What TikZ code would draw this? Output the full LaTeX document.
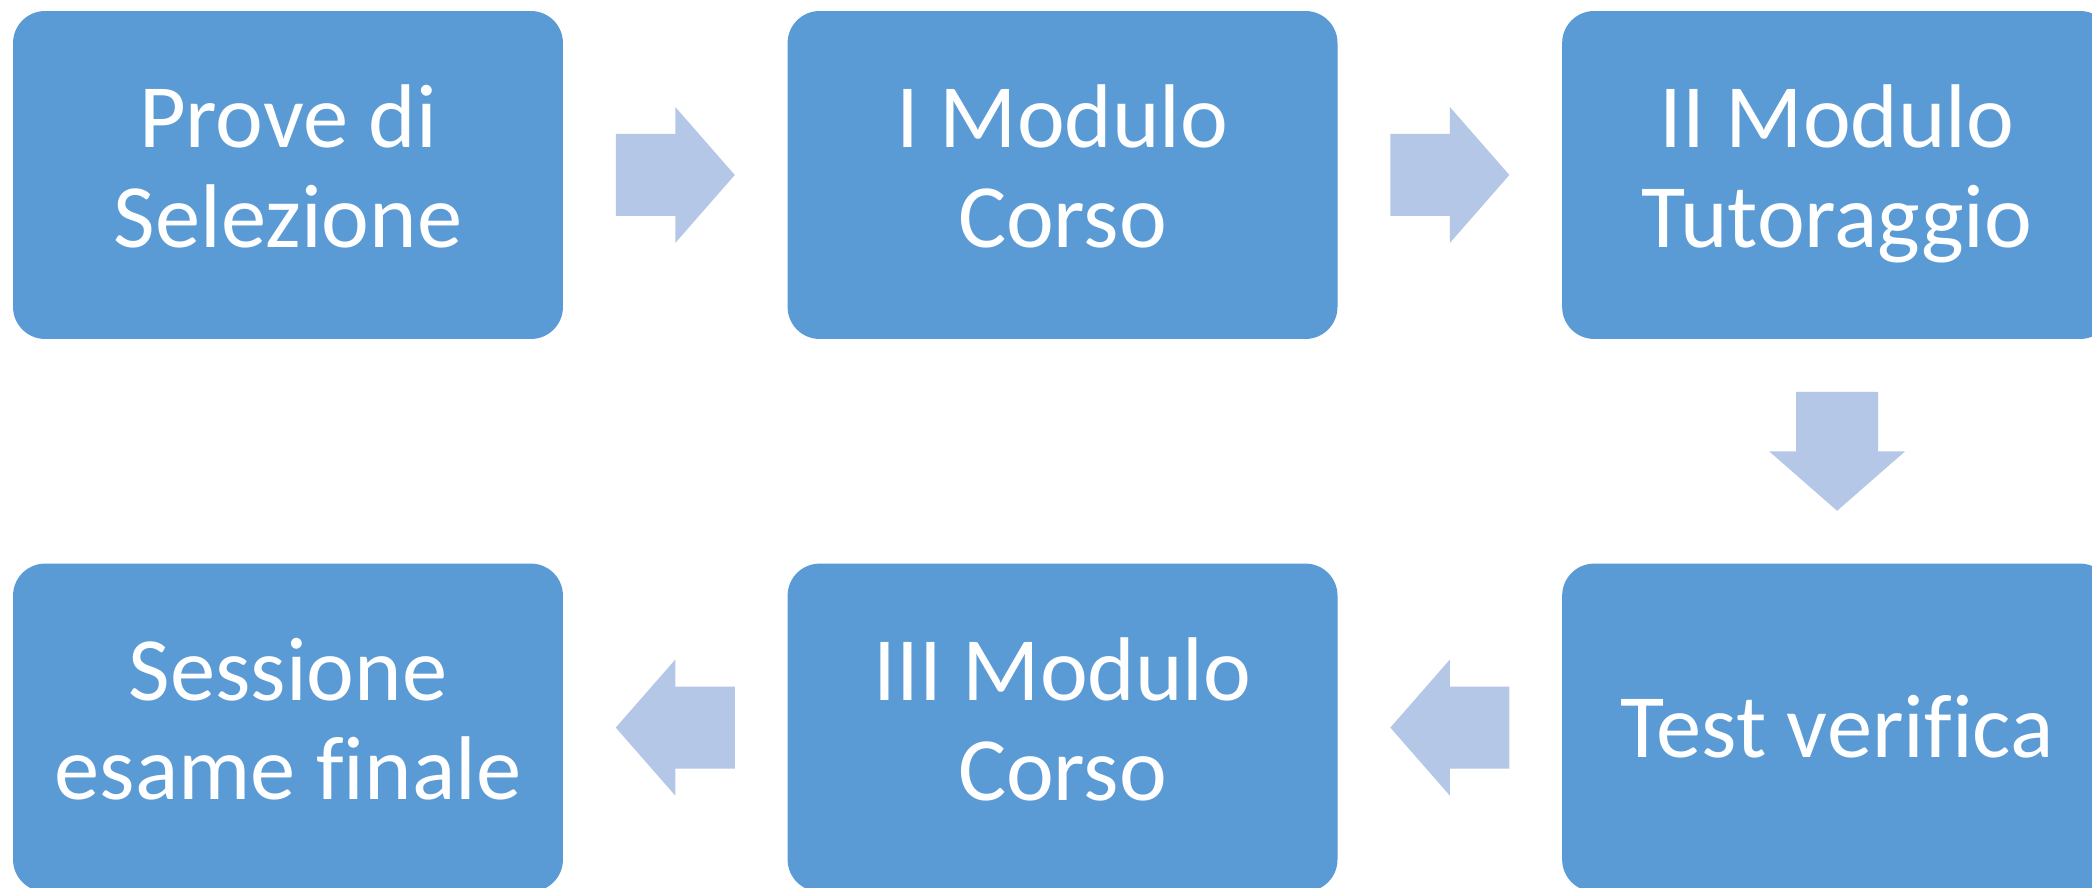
\documentclass[tikz,border=0pt]{standalone}
\usepackage{fontspec}
\setmainfont{Carlito}[Ligatures=CommonOff]
\usetikzlibrary{positioning,calc}

\definecolor{bluscatola}{RGB}{91,155,213}
\definecolor{bluchiaro}{RGB}{180,199,231}

\tikzset{
	fase/.style={rectangle, rounded corners=0.64cm, fill=bluscatola, text=white,
		align=center, inner sep=0pt, minimum width=11cm, minimum height=6.56cm,
		font=\fontsize{51.5}{56.7}\selectfont,
		execute at begin node={\rule{0pt}{0.85em}},
		execute at end node={\rule[-0.19em]{0pt}{0.19em}}},
	freccia/.style={fill=bluchiaro}
}

% arrow between two phases: from, to, angle
\newcommand{\passo}[3]{%
	\path ($(#1)!0.5!(#2)$) coordinate (mezzo);
	\fill[freccia, shift={(mezzo)}, rotate=#3] (-59.5,-41) -- (0,-41) -- (0,-68) -- (59.5,0)
		-- (0,68) -- (0,41) -- (-59.5,41) -- cycle;}

\begin{document}
\begin{tikzpicture}[x=0.02cm, y=0.02cm, node distance=4.48cm]
	\fill[white] (0,0) rectangle (2092,888);
	\useasboundingbox (0,0) rectangle (2092,888);

	\node[fase] (selezione) at (288,713) {Prove di\\Selezione};
	\node[fase, right=of selezione] (modulo1) {I Modulo\\Corso};
	\node[fase, right=of modulo1] (tutoraggio) {II Modulo\\Tutoraggio};
	\node[fase, below=of tutoraggio] (test) {Test verifica};
	\node[fase, left=of test] (modulo3) {III Modulo\\Corso};
	\node[fase, left=of modulo3] (esame) {Sessione\\esame finale};

	\foreach \da/\a/\ang in {selezione/modulo1/0,
							modulo1/tutoraggio/0,
							tutoraggio/test/-90,
							test/modulo3/180,
							modulo3/esame/180}
		{\passo{\da}{\a}{\ang}}
\end{tikzpicture}
\end{document}
